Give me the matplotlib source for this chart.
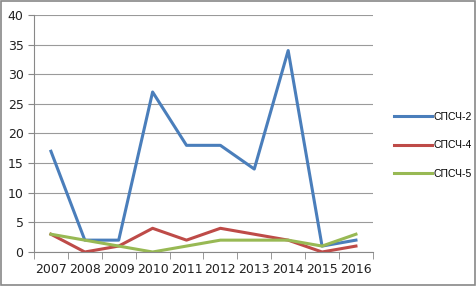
import matplotlib.pyplot as plt
import numpy as np

years = ['2007', '2008', '2009', '2010', '2011', '2012', '2013', '2014', '2015', '2016']
spsch2 = [17, 2, 2, 27, 18, 18, 14, 34, 1, 2]
spsch4 = [3, 0, 1, 4, 2, 4, 3, 2, 0, 1]
spsch5 = [3, 2, 1, 0, 1, 2, 2, 2, 1, 3]

fig = plt.figure(figsize=(4.76, 2.86), dpi=100)
fig.patches.append(plt.Rectangle((0.002, 0.003), 0.995, 0.993, transform=fig.transFigure,
                                 fill=False, edgecolor='#888888', linewidth=1.2))
ax = fig.add_axes([0.0714, 0.1189, 0.712, 0.8287])

x = np.arange(len(years))
ax.plot(x, spsch2, color='#4A7EBB', lw=2.2, label='СПСЧ-2')
ax.plot(x, spsch4, color='#BE4B48', lw=2.2, label='СПСЧ-4')
ax.plot(x, spsch5, color='#98B954', lw=2.2, label='СПСЧ-5')

ax.set_xlim(-0.5, len(years) - 0.5)
ax.set_ylim(0, 40)
ax.set_yticks(range(0, 41, 5))
ax.set_xticks(x)
ax.set_xticklabels(years)
ax.set_xticks(np.arange(-0.5, len(years), 1), minor=True)
ax.tick_params(axis='x', which='major', length=0, pad=8, labelsize=9, colors='#222222')
ax.tick_params(axis='x', which='minor', length=5, color='#888888')
ax.tick_params(axis='y', length=4, color='#888888', labelsize=9, labelcolor='#222222')
ax.grid(axis='y', color='#9a9a9a', lw=0.8)
ax.set_axisbelow(True)
for s in ['top', 'right']:
    ax.spines[s].set_visible(False)
ax.spines['left'].set_color('#888888')
ax.spines['bottom'].set_color('#888888')

ax.legend(loc='center left', bbox_to_anchor=(1.035, 0.45), frameon=False,
          prop={'family': 'Liberation Sans', 'size': 7.5},
          handlelength=3.6, labelspacing=1.8, handletextpad=0.2)

fig.savefig('out.png', dpi=100)
